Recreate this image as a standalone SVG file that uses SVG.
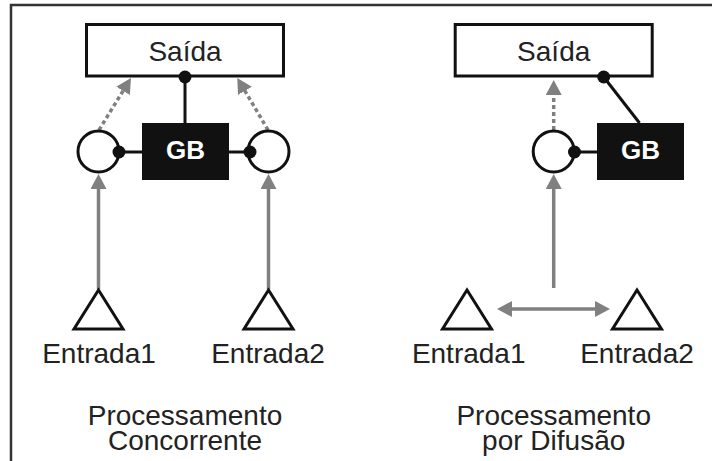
<svg xmlns="http://www.w3.org/2000/svg" width="712" height="461" viewBox="0 0 712 461">
<style>
.frame{fill:none;stroke:#333;stroke-width:2.5}
.box{fill:#fff;stroke:#111;stroke-width:3}
.gb{fill:#111}
.gbt{fill:#fff;font-family:"Liberation Sans",Arial,sans-serif;font-weight:bold;font-size:26px;text-anchor:middle}
.t{fill:#222;font-family:"Liberation Sans",Arial,sans-serif;font-size:28px;text-anchor:middle}
.circ{fill:#fff;stroke:#111;stroke-width:3}
.tri{fill:#fff;stroke:#111;stroke-width:3;stroke-linejoin:miter}
.dot{fill:#111}
.blk{stroke:#111;stroke-width:3;fill:none}
.gray{stroke:#808080;stroke-width:3.5;fill:none}
.dash{stroke:#808080;stroke-width:3.5;fill:none;stroke-dasharray:4 3}
</style>
<defs>
<marker id="ah" markerUnits="userSpaceOnUse" markerWidth="16" markerHeight="16" refX="1" refY="8" orient="auto-start-reverse" viewBox="0 0 16 16">
<path d="M0,0 L15,8 L0,16 z" fill="#808080"/>
</marker>
</defs>
<path class="frame" d="M11,461 V5 H712"/>

<g id="connectors">
<line class="dash" x1="99" y1="130" x2="123.6" y2="90" marker-end="url(#ah)"/>
<line class="dash" x1="268" y1="130" x2="244.4" y2="90" marker-end="url(#ah)"/>
<line class="gray" x1="98.5" y1="289" x2="98.5" y2="188" marker-end="url(#ah)"/>
<line class="gray" x1="268.5" y1="289" x2="268.5" y2="188" marker-end="url(#ah)"/>
<line class="blk" x1="119" y1="152" x2="142" y2="152"/>
<line class="blk" x1="229" y1="152" x2="250" y2="152"/>
<line class="blk" x1="185" y1="77" x2="185" y2="123"/>

<line class="dash" x1="553.7" y1="130" x2="553.7" y2="94" marker-end="url(#ah)"/>
<line class="gray" x1="553.7" y1="288" x2="553.7" y2="188" marker-end="url(#ah)"/>
<line class="gray" x1="511" y1="309" x2="596" y2="309" marker-start="url(#ah)" marker-end="url(#ah)"/>
<line class="blk" x1="574.5" y1="152" x2="597" y2="152"/>
<line class="blk" x1="603.7" y1="77" x2="639.5" y2="123"/>
</g>

<g id="saida1">
<rect class="box" x="86.5" y="24.5" width="197" height="51.5"/>
<text class="t" x="185" y="61">Saída</text>
</g>
<g id="gb1">
<rect class="gb" x="142" y="123" width="87" height="57"/>
<text class="gbt" x="185.5" y="159">GB</text>
</g>
<g id="circ1a">
<circle class="circ" cx="98.5" cy="151.5" r="20.5"/>
</g>
<g id="circ1b">
<circle class="circ" cx="268.5" cy="151.5" r="20.5"/>
</g>
<g id="dots1">
<circle class="dot" cx="119" cy="152" r="6.5"/>
<circle class="dot" cx="250" cy="152" r="6.5"/>
<circle class="dot" cx="185" cy="77" r="6.5"/>
</g>
<g id="entrada1a">
<polygon class="tri" points="98.5,290 74,329 123,329"/>
<text class="t" x="99" y="363">Entrada1</text>
</g>
<g id="entrada2a">
<polygon class="tri" points="268.5,290 244,329 293,329"/>
<text class="t" x="268" y="363">Entrada2</text>
</g>
<g id="label1">
<text class="t" x="185" y="425">Processamento</text>
<text class="t" x="185" y="450">Concorrente</text>
</g>

<g id="saida2">
<rect class="box" x="455.2" y="24.5" width="197" height="51.5"/>
<text class="t" x="553.7" y="61">Saída</text>
</g>
<g id="gb2">
<rect class="gb" x="597" y="123" width="87" height="57"/>
<text class="gbt" x="640.5" y="159">GB</text>
</g>
<g id="circ2">
<circle class="circ" cx="553.7" cy="151.5" r="20.5"/>
</g>
<g id="dots2">
<circle class="dot" cx="574.5" cy="152" r="6.5"/>
<circle class="dot" cx="603.7" cy="77" r="6.5"/>
</g>
<g id="entrada1b">
<polygon class="tri" points="467,290 442.5,329 491.5,329"/>
<text class="t" x="468.7" y="363">Entrada1</text>
</g>
<g id="entrada2b">
<polygon class="tri" points="637,290 612.5,329 661.5,329"/>
<text class="t" x="637" y="363">Entrada2</text>
</g>
<g id="label2">
<text class="t" x="553.7" y="425">Processamento</text>
<text class="t" x="553.7" y="450">por Difusão</text>
</g>
</svg>
